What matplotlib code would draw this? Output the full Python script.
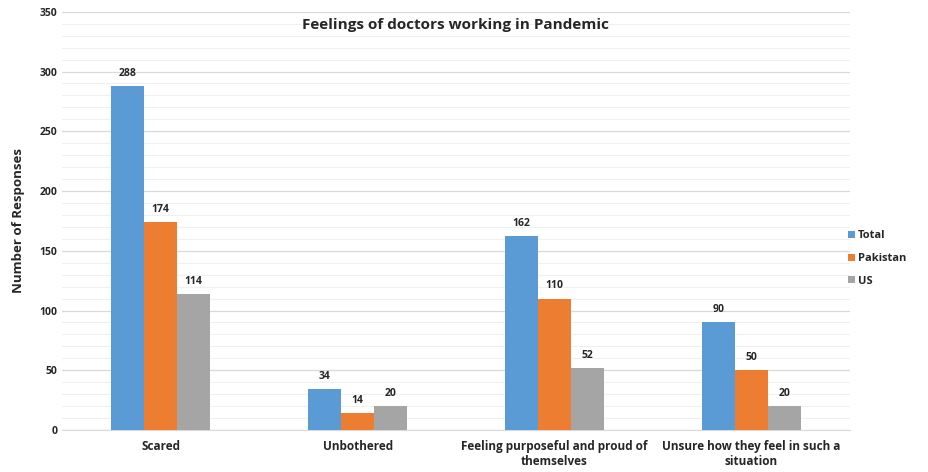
import numpy as np
import matplotlib.pyplot as plt

categories = ['Scared', 'Unbothered', 'Feeling purposeful and proud of\nthemselves',
              'Unsure how they feel in such a\nsituation']
total = [288, 34, 162, 90]
pakistan = [174, 14, 110, 50]
us = [114, 20, 52, 20]
series = ['Total', 'Pakistan', 'US']
colors = ['#5B9BD5', '#ED7D31', '#A5A5A5']

plt.rcParams['font.family'] = ['Open Sans', 'DejaVu Sans']

fig = plt.figure(figsize=(9.29, 4.72), dpi=100)
ax = fig.add_axes([0.067, 0.089, 0.848, 0.886])

x = np.arange(len(categories))
w = 0.167
for i, (vals, name) in enumerate(zip([total, pakistan, us], series)):
    pos = x + (i - 1) * w
    bars = ax.bar(pos, vals, w, color=colors[i], label=name, zorder=3)
    for b, v in zip(bars, vals):
        ax.text(b.get_x() + b.get_width() / 2, v + 6, str(v), ha='center', va='bottom',
                fontsize=7.5, fontweight='bold', color='#262626')

ax.set_xlim(-0.5, 3.5)
ax.set_ylim(0, 350)
ax.set_yticks(np.arange(0, 351, 50))
ax.set_yticks(np.arange(0, 351, 10), minor=True)
ax.grid(axis='y', which='major', color='#D9D9D9', linewidth=0.9, zorder=0)
ax.grid(axis='y', which='minor', color='#F0F0F0', linewidth=0.8, zorder=0)
ax.set_xticks(x)
ax.set_xticklabels(categories, fontsize=8.5, fontweight='bold', color='#262626', linespacing=1.25)
ax.tick_params(axis='y', labelsize=7.5, length=0, colors='#262626', which='both')
ax.tick_params(axis='x', length=0, pad=7)
for lbl in ax.get_yticklabels():
    lbl.set_fontweight('bold')
for s in ['top', 'right', 'left']:
    ax.spines[s].set_visible(False)
ax.spines['bottom'].set_color('#D9D9D9')

ax.set_ylabel('Number of Responses', fontsize=9.5, fontweight='bold', color='#262626', labelpad=10)
fig.text(0.49, 1 - 25 / 472, 'Feelings of doctors working in Pandemic', ha='center', va='center',
         fontsize=11, fontweight='bold', color='#262626')

leg = ax.legend(loc='center left', bbox_to_anchor=(0.985, 0.41), frameon=False, fontsize=8,
                handlelength=0.6, handleheight=0.6, handletextpad=0.3, labelspacing=1.05)
for t in leg.get_texts():
    t.set_fontweight('bold')
    t.set_color('#262626')

fig.savefig('out.png', dpi=100)
